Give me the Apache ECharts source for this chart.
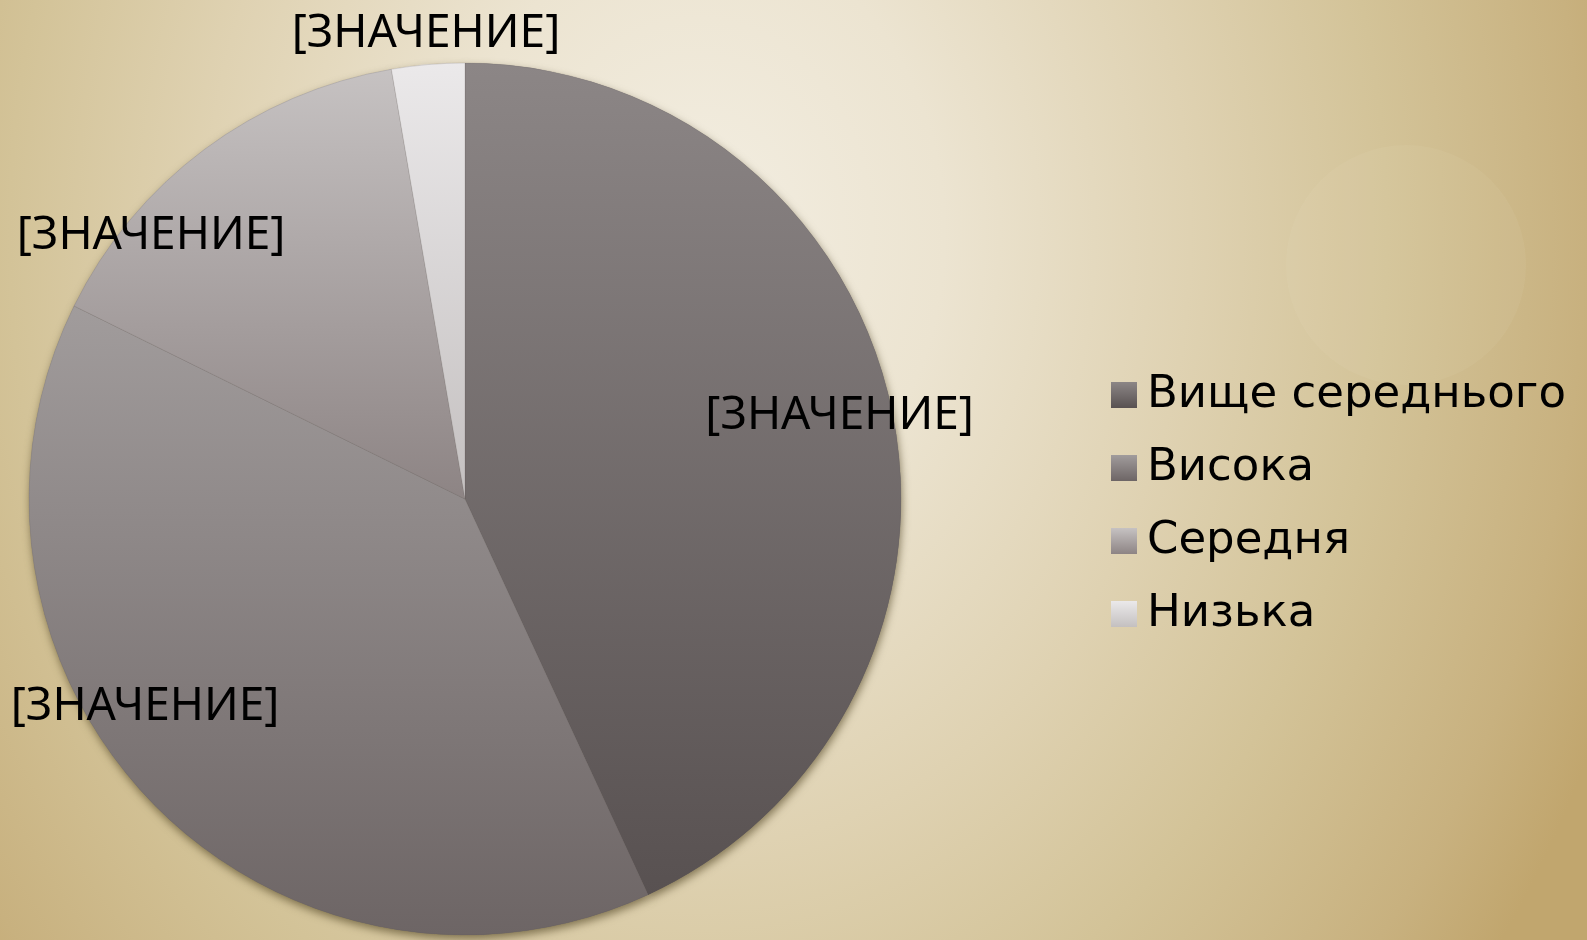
<!DOCTYPE html>
<html>
<head>
<meta charset="utf-8">
<script src="https://cdn.jsdelivr.net/npm/echarts@6/dist/echarts.min.js"></script>
<style>
  html, body { margin: 0; padding: 0; width: 1587px; height: 940px; overflow: hidden; }
  body {
    background: radial-gradient(ellipse 62% 130% at 44% 25%, #f3eee2 0%, #ece4d1 25%, #dfd2b2 50%, #d3c398 70%, #c8b17f 90%, #c1a66e 100%);
  }
  #chart { width: 1587px; height: 940px; }
  .deco { position: absolute; border-radius: 50%; background: rgba(255,250,235,0.05); }
</style>
</head>
<body>
<div class="deco" style="left:1286px;top:145px;width:240px;height:240px;"></div>
<div id="chart" style="position:absolute;left:0;top:0;"></div>
<script>
// ---- data ----
const categories = ['Вище середнього', 'Висока', 'Середня', 'Низька'];
const values = [43.1, 39.2, 15.0, 2.7];
const labelText = '[ЗНАЧЕНИЕ]';

// ---- style ----
const sliceGradients = [
  ['#8c8686', '#585151'],
  ['#a19c9c', '#6d6565'],
  ['#c6c2c2', '#8d8484'],
  ['#ebe9ea', '#c4c0c0']
];
const pieCenter = [465, 499];
const pieRadius = 436;
// label spots: angle clockwise from 12 o'clock (deg), distance as fraction of radius
const labelSpots = [
  { a: 77.5, f: 0.88 },
  { a: 237.0, f: 0.875 },
  { a: 310.0, f: 0.94 },
  { a: 355.2, f: 1.07 }
];

function grad(c) {
  return { type: 'linear', x: 0, y: 0, x2: 0, y2: 1,
    colorStops: [{ offset: 0, color: c[0] }, { offset: 1, color: c[1] }] };
}

const seriesData = categories.map((name, i) => ({
  name: name,
  value: values[i],
  itemStyle: { color: grad(sliceGradients[i]) }
}));

const chart = echarts.init(document.getElementById('chart'), null, { renderer: 'canvas' });
chart.setOption({
  animation: false,
  backgroundColor: 'transparent',
  legend: {
    orient: 'vertical',
    left: 1106,
    top: 367,
    itemWidth: 26,
    itemHeight: 26,
    itemGap: 27,
    icon: 'rect',
    data: categories,
    textStyle: {
      fontFamily: 'DejaVu Sans',
      fontSize: 45,
      lineHeight: 46,
      color: '#000',
      padding: [0, 0, 0, 5]
    },
    selectedMode: false
  },
  series: [
    {
      type: 'pie',
      silent: true,
      center: pieCenter,
      radius: pieRadius,
      startAngle: 90,
      clockwise: true,
      label: { show: false },
      labelLine: { show: false },
      emphasis: { disabled: true },
      itemStyle: {
        shadowBlur: 8,
        shadowColor: 'rgba(70,58,25,0.6)',
        shadowOffsetX: 1,
        shadowOffsetY: 4
      },
      data: seriesData
    },
    {
      type: 'pie',
      center: pieCenter,
      radius: pieRadius,
      startAngle: 90,
      clockwise: true,
      emphasis: { disabled: true },
      itemStyle: { borderWidth: 0.5, borderColor: 'rgba(90,85,85,0.35)' },
      label: {
        show: true,
        position: 'inside',
        formatter: () => labelText,
        fontFamily: 'Noto Sans',
        fontSize: 46,
        color: '#000'
      },
      labelLine: { show: false },
      labelLayout: function (params) {
        const s = labelSpots[params.dataIndex];
        const rad = s.a * Math.PI / 180;
        return {
          x: pieCenter[0] + Math.sin(rad) * s.f * pieRadius,
          y: pieCenter[1] - Math.cos(rad) * s.f * pieRadius,
          align: 'center',
          verticalAlign: 'middle'
        };
      },
      data: seriesData
    }
  ]
});
</script>
</body>
</html>
